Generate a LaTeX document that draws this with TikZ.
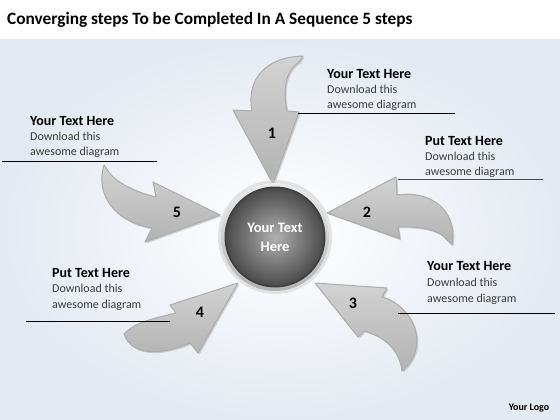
\documentclass[tikz,border=0pt]{standalone}
\usepackage{fontspec}
\setmainfont{Carlito}
\usetikzlibrary{shadows}
\definecolor{bgedge}{RGB}{228,234,242}
\definecolor{txtgray}{RGB}{60,60,60}
\begin{document}
\begin{tikzpicture}[x=1pt,y=-1pt,
  arr/.style={top color=gray!35, bottom color=gray!60, draw=gray!65, line width=1pt, line join=round,
    general shadow={fill=black, opacity=0.15, shadow xshift=1.5pt, shadow yshift=-1.5pt}},
  hd/.style={font=\fontsize{14}{16}\selectfont\bfseries, anchor=base west, inner sep=0pt, text=black},
  bd/.style={font=\fontsize{12}{16}\selectfont, anchor=base west, inner sep=0pt, text=txtgray},
  num/.style={font=\fontsize{16}{18}\selectfont\bfseries, inner sep=0pt, text=black},
  uline/.style={line width=0.9pt, draw=black}]
\useasboundingbox (0,0) rectangle (560,420);
\fill[white] (0,0) rectangle (560,420);
\shade[inner color=white, outer color=bgedge] (0,40) rectangle (560,420);

% title
\node[font=\fontsize{17.3}{20}\selectfont\bfseries, anchor=base west, inner sep=0pt] (title) at (7,25)
  {Converging steps To be Completed In A Sequence 5 steps};

% arrows
\path[arr] (273,184) -- (233,110) -- (252,111) .. controls (246,80) and (265,57) .. (303,56)
  -- (299,62) .. controls (284,72) and (283,92) .. (287,111) -- (299,112) -- cycle;
\path[arr] (327,213) -- (396,177) -- (397,195) .. controls (428,190) and (458,208) .. (452,245)
  -- (447,240) .. controls (440,230) and (420,226) .. (398,227) -- (400,239) -- cycle;
\path[arr] (315,283) -- (387,288) -- (382,297) .. controls (412,305) and (432,345) .. (402,371)
  .. controls (400,355) and (390,338) .. (364,331) -- (358,337) -- cycle;
\path[arr] (238,283) -- (170,305) -- (176,313) .. controls (155,318) and (135,322) .. (124,334)
  .. controls (132,358) and (165,354) .. (190,343) -- (198,353) -- cycle;
\path[arr] (220,215) -- (153,182) -- (156,197) .. controls (135,192) and (115,182) .. (108,171)
  -- (104,165) .. controls (95,195) and (115,222) .. (152,228) -- (145,242) -- cycle;

% centre circle
\coordinate (C) at (275,237);
\fill[gray!40, opacity=0.5] (C) circle (57);
\shade[top color=gray!15, bottom color=gray!60] (C) circle (54);
\fill[black!75] (C) circle (50.5);
\shade[inner color=gray!62, outer color=black!70] (C) circle (48.5);
\node[font=\fontsize{14.5}{19}\selectfont\bfseries, text=white, align=center, inner sep=0pt] (ctext) at (C) {Your Text\\Here};

% numbers
\node[num] (n1) at (272,133) {1};
\node[num] (n2) at (367,212) {2};
\node[num] (n3) at (353,303) {3};
\node[num] (n4) at (200,312) {4};
\node[num] (n5) at (177,212) {5};

% text block 1
\node[hd] (h1) at (327,78) {Your Text Here};
\node[bd] (a1) at (327,93) {Download this};
\node[bd] (b1) at (327,109) {awesome diagram};
\coordinate (l1a) at (298,113); \coordinate (l1b) at (455,113);
\draw[uline] (l1a) -- (l1b);

% text block 2
\node[hd] (h2) at (425,145) {Put Text Here};
\node[bd] (a2) at (425,160) {Download this};
\node[bd] (b2) at (425,175) {awesome diagram};
\coordinate (l2a) at (398,179); \coordinate (l2b) at (543,179);
\draw[uline, draw=black!70] (l2a) -- (l2b);

% text block 3
\node[hd] (h3) at (427,270) {Your Text Here};
\node[bd] (a3) at (427,286) {Download this};
\node[bd] (b3) at (427,302) {awesome diagram};
\coordinate (l3a) at (398,313); \coordinate (l3b) at (555,313);
\draw[uline] (l3a) -- (l3b);

% text block 4
\node[hd] (h4) at (52,277) {Put Text Here};
\node[bd] (a4) at (52,292) {Download this};
\node[bd] (b4) at (52,308) {awesome diagram};
\coordinate (l4a) at (26,321); \coordinate (l4b) at (170,321);
\draw[uline] (l4a) -- (l4b);

% text block 5
\node[hd] (h5) at (30,125) {Your Text Here};
\node[bd] (a5) at (30,140) {Download this};
\node[bd] (b5) at (30,155) {awesome diagram};
\coordinate (l5a) at (2,161); \coordinate (l5b) at (157,161);
\draw[uline] (l5a) -- (l5b);

% logo
\node[font=\fontsize{10}{12}\selectfont\bfseries, inner sep=0pt] (logo) at (529,408) {Your Logo};
\end{tikzpicture}
\end{document}
